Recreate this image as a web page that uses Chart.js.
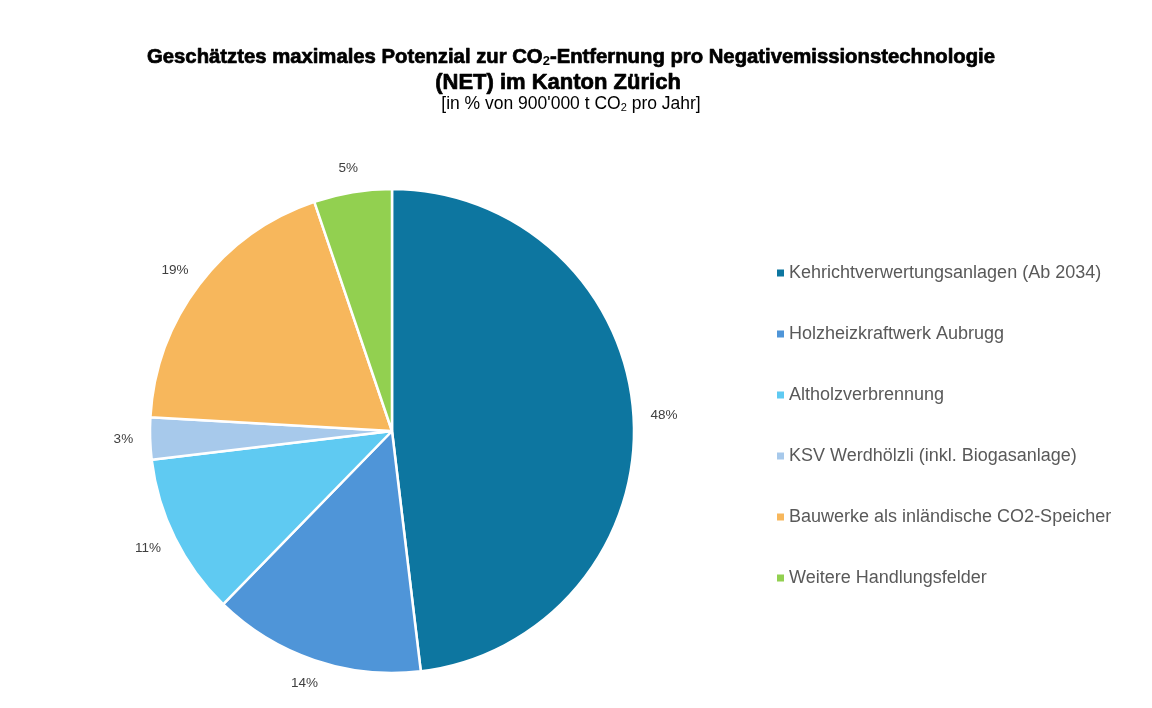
<!DOCTYPE html>
<html><head><meta charset="utf-8">
<script src="https://cdn.jsdelivr.net/npm/chart.js@4"></script>
<style>html,body{margin:0;padding:0;background:#fff;}#wrap{width:1152px;height:708px;}</style>
</head><body><div id="wrap"><canvas id="c" width="1152" height="708"></canvas></div>
<script>
const categories = [
  "Kehrichtverwertungsanlagen (Ab 2034)",
  "Holzheizkraftwerk Aubrugg",
  "Altholzverbrennung",
  "KSV Werdhölzli (inkl. Biogasanlage)",
  "Bauwerke als inländische CO2-Speicher",
  "Weitere Handlungsfelder"
];
const shares = [48.1, 14.2, 10.8, 2.8, 18.9, 5.2];
const shareLabels = ["48%", "14%", "11%", "3%", "19%", "5%"];
const colors = ["#0D76A0", "#4F95D8", "#5FCAF2", "#A7C9EB", "#F7B75C", "#92D050"];

const FONT = "'Liberation Sans', Arial, sans-serif";

function drawSubText(ctx, parts, cx, y, size, weight, stroke) {
  const subSize = Math.round(size * 0.62);
  let total = 0;
  const widths = parts.map(([t, sub]) => {
    ctx.font = `${weight} ${sub ? subSize : size}px ${FONT}`;
    const w = ctx.measureText(t).width; total += w; return w;
  });
  let x = cx - total / 2;
  parts.forEach(([t, sub], i) => {
    ctx.font = `${weight} ${sub ? subSize : size}px ${FONT}`;
    const yy = sub ? y + size * 0.22 : y;
    ctx.fillText(t, x, yy);
    if (stroke && !sub) { ctx.lineWidth = stroke; ctx.strokeStyle = ctx.fillStyle; ctx.strokeText(t, x, yy); }
    x += widths[i];
  });
}

const overlay = {
  id: 'overlay',
  afterDraw(chart) {
    const ctx = chart.ctx;
    ctx.save();
    ctx.fillStyle = '#000';
    ctx.textBaseline = 'middle';
    ctx.textAlign = 'left';
    ctx.lineJoin = 'round';
    drawSubText(ctx, [["Geschätztes maximales Potenzial zur CO", false], ["2", true], ["-Entfernung pro Negativemissionstechnologie", false]], 571, 57, 20.3, 'bold', 0.7);
    drawSubText(ctx, [["(NET) im Kanton Zürich", false]], 558, 83, 22, 'bold', 0.7);
    drawSubText(ctx, [["[in % von 900'000 t CO", false], ["2", true], [" pro Jahr]", false]], 571, 104, 17.5, 'normal', 0);

    // data labels
    const meta = chart.getDatasetMeta(0);
    ctx.font = `13.5px ${FONT}`;
    ctx.fillStyle = '#404040';
    ctx.textAlign = 'center';
    const gap = 17, h = 14;
    meta.data.forEach((arc, i) => {
      const p = arc.getProps(['x', 'y', 'startAngle', 'endAngle', 'outerRadius'], true);
      const mid = (p.startAngle + p.endAngle) / 2;
      const dx = Math.cos(mid), dy = Math.sin(mid);
      const w = ctx.measureText(shareLabels[i]).width;
      const r = p.outerRadius + gap;
      ctx.fillText(shareLabels[i], p.x + dx * r + dx * w / 2, p.y + dy * r + dy * h / 2);
    });

    // legend
    ctx.textAlign = 'left';
    ctx.font = `18px ${FONT}`;
    categories.forEach((name, i) => {
      const y = 273 + i * 61;
      ctx.fillStyle = colors[i];
      ctx.fillRect(777, y - 3.5, 7, 7);
      ctx.fillStyle = '#595959';
      ctx.fillText(name, 789, y);
    });
    ctx.restore();
  }
};

new Chart(document.getElementById('c'), {
  type: 'pie',
  data: {
    labels: categories,
    datasets: [{
      data: shares,
      backgroundColor: colors,
      borderColor: '#ffffff',
      borderWidth: 2.5
    }]
  },
  options: {
    responsive: false,
    animation: false,
    radius: 242,
    layout: { padding: { left: 150, right: 518, top: 189, bottom: 35 } },
    plugins: { legend: { display: false }, title: { display: false }, tooltip: { enabled: false } }
  },
  plugins: [overlay]
});
</script>
</body></html>
